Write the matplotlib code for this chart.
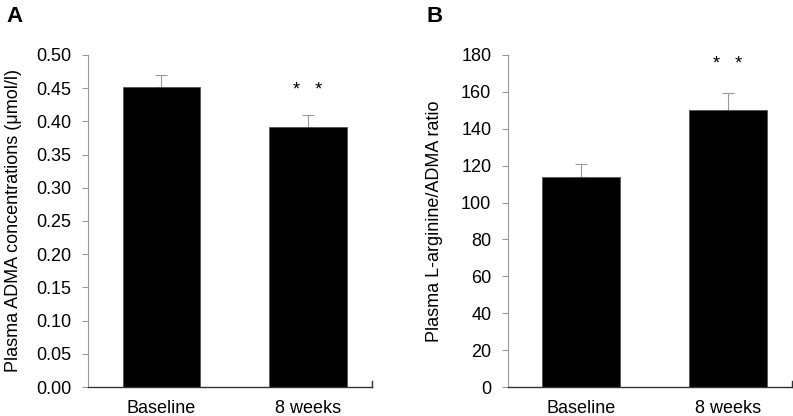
import matplotlib
matplotlib.use("Agg")
import matplotlib.pyplot as plt

plt.rcParams['font.family'] = ['Liberation Sans', 'DejaVu Sans']

categories = ["Baseline", "8 weeks"]
adma_values = [0.452, 0.391]
adma_err = [0.018, 0.019]
ratio_values = [114, 150]
ratio_err = [7, 9.5]

fig = plt.figure(figsize=(7.93, 4.16), dpi=100)

def panel(rect, vals, errs, ylim, yticks, fmt, ylabel, star_y, label, label_x, labelpad):
    ax = fig.add_axes(rect)
    x = list(range(len(vals)))
    ax.bar(x, vals, width=0.53, color='black', edgecolor='#555555', linewidth=0.6, zorder=2)
    ax.errorbar(x, vals, yerr=[[0]*len(errs), errs], fmt='none', ecolor='#999999',
                elinewidth=0.8, capsize=4, capthick=0.8, zorder=1)
    ax.set_xlim(-0.5, 1.435)
    ax.set_ylim(*ylim)
    ax.set_yticks(yticks)
    ax.set_yticklabels([fmt.format(v) for v in yticks], fontsize=13)
    ax.set_xticks(x)
    ax.set_xticklabels(categories, fontsize=13)
    ax.tick_params(axis='x', length=0, pad=9)
    ax.tick_params(axis='y', length=4, color='#999999', direction='out', pad=8)
    ax.spines['top'].set_visible(False)
    ax.spines['right'].set_visible(False)
    ax.spines['left'].set_color('#999999')
    ax.spines['left'].set_linewidth(0.8)
    ax.spines['bottom'].set_color('#333333')
    ax.spines['bottom'].set_linewidth(1.0)
    # small end tick at right of x axis
    ax.plot([1.435, 1.435], [ylim[0], ylim[0] + (ylim[1]-ylim[0])*0.018], color='#333333',
            lw=1.0, clip_on=False)
    ax.set_ylabel(ylabel, fontsize=13, labelpad=labelpad)
    ax.text(1, star_y, "*   *", ha='center', va='center', fontsize=13)
    fig.text(label_x, 0.985, label, fontsize=16, fontweight='bold', va='top', ha='left')
    return ax

axA = panel([0.111, 0.0697, 0.358, 0.7983], adma_values, adma_err, (0, 0.5),
            [0.0, 0.05, 0.10, 0.15, 0.20, 0.25, 0.30, 0.35, 0.40, 0.45, 0.50], "{:.2f}",
            "Plasma ADMA concentrations (μmol/l)", 0.446, "A", 0.008, 10)
axB = panel([0.6406, 0.0697, 0.358, 0.7983], ratio_values, ratio_err, (0, 180),
            [0, 20, 40, 60, 80, 100, 120, 140, 160, 180], "{:d}",
            "Plasma L-arginine/ADMA ratio", 175, "B", 0.538, 13)

fig.savefig("out.png", dpi=100)
